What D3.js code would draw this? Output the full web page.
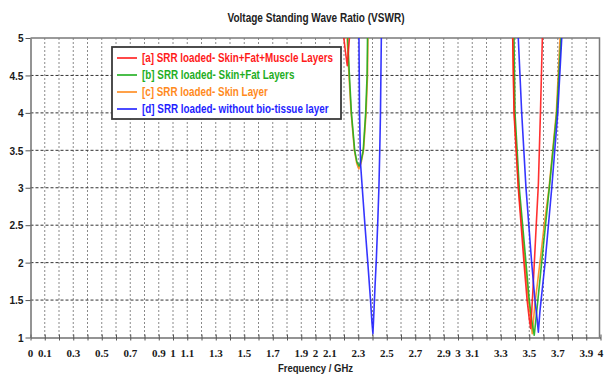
<!DOCTYPE html>
<html>
<head>
<meta charset="utf-8">
<script src="https://cdn.jsdelivr.net/npm/d3@7"></script>
<style>
  html, body { margin: 0; padding: 0; background: #fff; }
  svg { display: block; }
</style>
</head>
<body>
<svg id="chart" width="604" height="374"></svg>
<script>
// VSWR of the SRR-loaded antenna for different bio-tissue configurations.
// Each series holds two resonance bands separated by a null break.
const seriesNames = [
  "[a] SRR loaded- Skin+Fat+Muscle Layers",
  "[b] SRR loaded- Skin+Fat Layers",
  "[c] SRR loaded- Skin Layer",
  "[d] SRR loaded- without bio-tissue layer"
];

const freqA = [2.195, 2.199, 2.208, 2.218, 2.223, 2.230, 2.238, 2.242, null,
               3.378, 3.384, 3.393, 3.423, 3.463, 3.485, 3.500, 3.510, 3.525, 3.545, 3.564, 3.580, 3.592, 3.597];
const vswrA = [5.3, 5.0, 4.85, 4.7, 4.63, 4.8, 5.0, 5.3, null,
               5.3, 5.0, 4.0, 3.0, 2.0, 1.5, 1.25, 1.12, 1.6, 2.35, 3.05, 4.1, 5.0, 5.3];

const freqB = [2.222, 2.226, 2.238, 2.252, 2.275, 2.290, 2.306, 2.320, 2.335, 2.352, 2.362, 2.365, 2.367, null,
               3.388, 3.393, 3.400, 3.430, 3.477, 3.500, 3.520, 3.535, 3.550, 3.587, 3.641, 3.693, 3.723, 3.728];
const vswrB = [5.3, 5.0, 4.5, 4.0, 3.5, 3.35, 3.29, 3.36, 3.5, 4.0, 4.5, 5.0, 5.3, null,
               5.3, 5.0, 4.0, 3.0, 2.0, 1.5, 1.2, 1.03, 1.3, 2.0, 3.0, 4.0, 5.0, 5.3];

const freqC = [2.218, 2.222, 2.235, 2.250, 2.273, 2.290, 2.304, 2.320, 2.337, 2.355, 2.365, 2.368, 2.370, null,
               3.379, 3.384, 3.395, 3.425, 3.470, 3.495, 3.510, 3.521, 3.540, 3.575, 3.605, 3.639, 3.690, 3.716, 3.721];
const vswrC = [5.3, 5.0, 4.5, 4.0, 3.5, 3.32, 3.25, 3.33, 3.5, 4.0, 4.5, 5.0, 5.3, null,
               5.3, 5.0, 4.0, 3.0, 2.0, 1.5, 1.25, 1.05, 1.45, 2.0, 2.5, 3.0, 4.0, 5.0, 5.3];

const freqD = [2.304, 2.305, 2.309, 2.314, 2.317, 2.328, 2.347, 2.367, 2.386, 2.396, 2.403, 2.409, 2.417, 2.427, 2.437, 2.445, 2.451, 2.456, 2.459, 2.462, 2.464, null,
               3.420, 3.423, 3.447, 3.477, 3.517, 3.540, 3.555, 3.564, 3.575, 3.611, 3.658, 3.700, 3.728, 3.732];
const vswrD = [5.3, 5.0, 4.0, 3.5, 3.3, 3.0, 2.5, 2.0, 1.5, 1.2, 1.05, 1.3, 1.65, 2.05, 2.55, 3.0, 3.5, 4.0, 4.5, 5.0, 5.3, null,
               5.3, 5.0, 4.0, 3.0, 2.0, 1.5, 1.25, 1.07, 1.35, 2.0, 3.0, 4.0, 5.0, 5.3];

const seriesColors = ["#ff1a1a", "#1fae1f", "#ff8a1c", "#1f1fff"];

const xTickLabels = [0, 0.1, 0.3, 0.5, 0.7, 0.9, 1, 1.1, 1.3, 1.5, 1.7, 1.9, 2, 2.1,
                     2.3, 2.5, 2.7, 2.9, 3, 3.1, 3.3, 3.5, 3.7, 3.9, 4];
const yTickLabels = [1, 1.5, 2, 2.5, 3, 3.5, 4, 4.5, 5];

const chartTitle = "Voltage Standing Wave Ratio (VSWR)";
const xAxisTitle = "Frequency / GHz";

// ---- layout ----
const plot = { left: 30.5, right: 600.5, top: 38, bottom: 337.5 };
const svg = d3.select("#chart");

const x = d3.scaleLinear().domain([0, 4]).range([plot.left, plot.right]);
const y = d3.scaleLinear().domain([1, 5]).range([plot.bottom, plot.top]);

const sans = "'Liberation Sans', Arial, sans-serif";

// squeeze a text horizontally to a given width (narrow bold face look)
function squeeze(sel, ratioOrWidth, isWidth) {
  sel.each(function () {
    const w = this.getComputedTextLength();
    const target = isWidth ? ratioOrWidth : w * ratioOrWidth;
    d3.select(this).attr("textLength", target.toFixed(1)).attr("lengthAdjust", "spacingAndGlyphs");
  });
}

// title
svg.append("text")
  .attr("x", 316).attr("y", 22)
  .attr("text-anchor", "middle")
  .style("font-family", sans).style("font-weight", "bold").style("font-size", "12px")
  .attr("fill", "#222")
  .text(chartTitle)
  .call(squeeze, 177, true);

// grid
const minorX = d3.range(1, 40).map(i => i / 10);
svg.append("g").selectAll("line").data(minorX).join("line")
  .attr("x1", d => x(d)).attr("x2", d => x(d))
  .attr("y1", plot.top).attr("y2", plot.bottom)
  .attr("stroke", "#8a8a8a").attr("stroke-width", 1)
  .attr("stroke-dasharray", "2,2");

svg.append("g").selectAll("line").data(yTickLabels.slice(1, -1)).join("line")
  .attr("x1", plot.left).attr("x2", plot.right)
  .attr("y1", d => y(d)).attr("y2", d => y(d))
  .attr("stroke", "#333").attr("stroke-width", 1)
  .attr("stroke-dasharray", "3,2");

// frame (top and right)
svg.append("path")
  .attr("d", `M${plot.left},${plot.top}H${plot.right - 1}V${plot.bottom}`)
  .attr("fill", "none").attr("stroke", "#7a7a7a").attr("stroke-width", 1.5);

// x axis: crossing ticks every 0.1 GHz, labels on selected values
const xAxis = svg.append("g").attr("transform", `translate(0,${plot.bottom})`)
  .call(d3.axisBottom(x).tickValues(d3.range(0, 41).map(i => i / 10)).tickSize(3).tickSizeOuter(0).tickFormat(""));
xAxis.select(".domain").attr("stroke", "#707070").attr("stroke-width", 1.5);
xAxis.selectAll(".tick line").attr("stroke", "#555").attr("y1", -3);

svg.append("g").selectAll("text").data(xTickLabels).join("text")
  .attr("x", d => x(d)).attr("y", 357)
  .attr("text-anchor", "middle")
  .style("font-family", "'Liberation Serif', 'DejaVu Serif', serif")
  .style("font-weight", "bold").style("font-size", "11px")
  .attr("fill", "#1a1a1a")
  .text(d => String(d));

// y axis
const yAxis = svg.append("g").attr("transform", `translate(${plot.left},0)`)
  .call(d3.axisLeft(y).tickValues(yTickLabels).tickSize(5).tickSizeOuter(0).tickPadding(2)
        .tickFormat(d => String(d)));
yAxis.select(".domain").attr("stroke", "#707070").attr("stroke-width", 1.5);
yAxis.selectAll(".tick line").attr("stroke", "#555");
yAxis.selectAll(".tick text")
  .style("font-family", sans)
  .style("font-weight", "bold").style("font-size", "11.5px")
  .attr("fill", "#1a1a1a")
  .call(squeeze, 0.88, false);

// x axis title
svg.append("text")
  .attr("x", 315.5).attr("y", 372)
  .attr("text-anchor", "middle")
  .style("font-family", sans).style("font-weight", "bold").style("font-size", "11px")
  .attr("fill", "#222")
  .text(xAxisTitle)
  .call(squeeze, 75, true);

// curves
svg.append("defs").append("clipPath").attr("id", "plotClip")
  .append("rect")
  .attr("x", plot.left).attr("y", plot.top)
  .attr("width", plot.right - plot.left).attr("height", plot.bottom - plot.top);

const toPoints = (fs, vs) => fs.map((f, i) => ({ f, v: vs[i] }));
const seriesData = [
  toPoints(freqA, vswrA),
  toPoints(freqB, vswrB),
  toPoints(freqC, vswrC),
  toPoints(freqD, vswrD)
];

const line = d3.line()
  .defined(d => d.f != null && d.v != null)
  .x(d => x(d.f)).y(d => y(d.v));

const drawOrder = [2, 1, 0, 3];
svg.append("g").attr("clip-path", "url(#plotClip)")
  .selectAll("path").data(drawOrder).join("path")
  .attr("d", i => line(seriesData[i]))
  .attr("fill", "none")
  .attr("stroke", i => seriesColors[i])
  .attr("stroke-width", 1.6)
  .attr("stroke-opacity", 0.9)
  .attr("stroke-linejoin", "round");

// legend
const legend = { x: 112, y: 47, w: 229, h: 72 };
svg.append("rect")
  .attr("x", legend.x).attr("y", legend.y)
  .attr("width", legend.w).attr("height", legend.h)
  .attr("fill", "#fff").attr("stroke", "#3a3a3a").attr("stroke-width", 1.8);

const legendRows = svg.append("g").selectAll("g").data(seriesNames).join("g")
  .attr("transform", (d, i) => `translate(${legend.x},${legend.y + 11 + i * 17})`);
legendRows.append("line")
  .attr("x1", 5).attr("x2", 25).attr("y1", 0).attr("y2", 0)
  .attr("stroke", (d, i) => seriesColors[i]).attr("stroke-width", 1.6);
const legendText = legendRows.append("text")
  .attr("x", 30).attr("y", 0).attr("dy", "0.36em")
  .style("font-family", sans).style("font-weight", "bold").style("font-size", "12px")
  .attr("fill", (d, i) => seriesColors[i])
  .text(d => d);
// one common squeeze ratio, taken from the longest entry
const ratio = 191 / legendText.node().getComputedTextLength();
legendText.call(squeeze, ratio, false);
</script>
</body>
</html>
